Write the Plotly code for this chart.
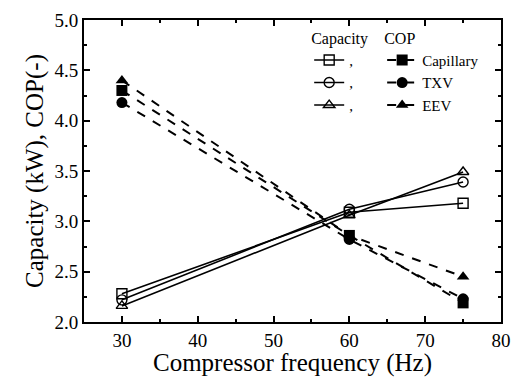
import plotly.graph_objects as go

freq = [30, 60, 75]
cap_capillary = [2.28, 3.09, 3.18]
cap_txv = [2.22, 3.12, 3.39]
cap_eev = [2.16, 3.06, 3.49]
cop_capillary = [4.30, 2.86, 2.19]
cop_txv = [4.18, 2.82, 2.23]
cop_eev = [4.40, 2.86, 2.45]
names = ["Capillary", "TXV", "EEV"]

FONT = "Liberation Serif"
fig = go.Figure()

cap_sets = [(cap_capillary, "square-open"), (cap_txv, "circle-open"), (cap_eev, "triangle-up-open")]
cop_sets = [(cop_capillary, "square"), (cop_txv, "circle"), (cop_eev, "triangle-up")]

for (vals, sym), nm in zip(cap_sets, names):
    fig.add_trace(go.Scatter(
        x=freq, y=vals, mode="lines+markers", name=",", legend="legend",
        line=dict(color="black", width=1.6),
        marker=dict(symbol=sym, size=10, color="black", line=dict(width=1.4, color="black")),
    ))
for (vals, sym), nm in zip(cop_sets, names):
    fig.add_trace(go.Scatter(
        x=freq, y=vals, mode="lines+markers", name=nm, legend="legend2",
        line=dict(color="black", width=2, dash="dash"),
        marker=dict(symbol=sym, size=11, color="black"),
    ))

axis_common = dict(
    showline=True, linecolor="black", linewidth=2, mirror="allticks",
    ticks="inside", ticklen=6, tickwidth=1.5, tickcolor="black",
    showgrid=False, zeroline=False, automargin=False,
    tickfont=dict(family=FONT, size=19, color="black"),
)

fig.update_layout(
    width=512, height=377,
    margin=dict(l=84, r=11, t=20, b=55),
    paper_bgcolor="white", plot_bgcolor="white",
    font=dict(family=FONT, color="black"),
    xaxis=dict(range=[25, 80], tick0=30, dtick=10,
               minor=dict(ticks="inside", ticklen=3, dtick=5, tick0=25, tickcolor="black"),
               title=dict(text="Compressor frequency (Hz)", font=dict(family=FONT, size=25), standoff=2),
               **axis_common),
    yaxis=dict(range=[2, 5], tick0=2, dtick=0.5, tickformat=".1f",
               minor=dict(ticks="inside", ticklen=3, dtick=0.25, tick0=2, tickcolor="black"),
               title=dict(text="Capacity (kW), COP(-)", font=dict(family=FONT, size=25), standoff=4),
               **axis_common),
    legend=dict(x=0.54, y=0.99, xanchor="left", yanchor="top", bgcolor="rgba(0,0,0,0)",
                font=dict(family=FONT, size=15), tracegroupgap=0,
                title=dict(text="Capacity", font=dict(family=FONT, size=16))),
    legend2=dict(x=0.715, y=0.99, xanchor="left", yanchor="top", bgcolor="rgba(0,0,0,0)",
                 font=dict(family=FONT, size=15), tracegroupgap=0,
                 title=dict(text="COP", font=dict(family=FONT, size=16))),
)

fig.write_html("out.html", config={"displayModeBar": False},
               post_script="document.body.style.margin='0px';")
